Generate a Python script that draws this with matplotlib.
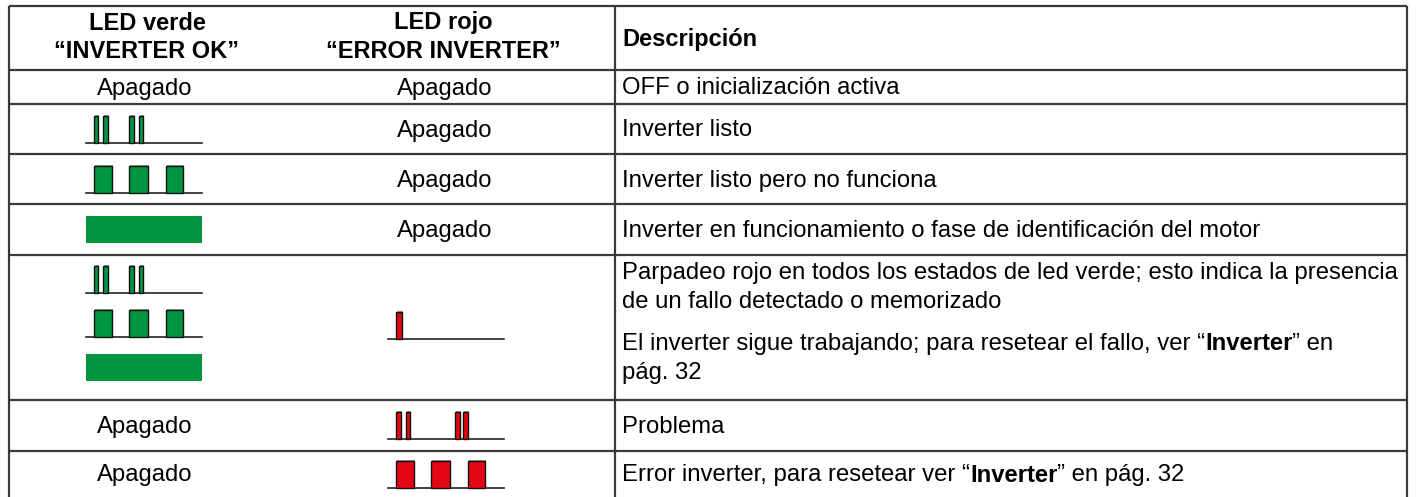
import matplotlib
matplotlib.use("Agg")
import matplotlib.pyplot as plt
from matplotlib.patches import Rectangle

plt.rcParams['font.family'] = ['Liberation Sans', 'DejaVu Sans']

# table content
headers = [["LED verde", "\u201cINVERTER OK\u201d"],
           ["LED rojo", "\u201cERROR INVERTER\u201d"],
           ["Descripci\u00f3n"]]

green_state = ["off", "double", "triple", "solid", "all", "off", "off"]
red_state = ["off", "off", "off", "off", "single", "double", "triple"]

# description: list of paragraphs, each paragraph a list of lines, each line a list of (text, bold)
descriptions = [
    [[[("OFF o inicializaci\u00f3n activa", False)]]],
    [[[("Inverter listo", False)]]],
    [[[("Inverter listo pero no funciona", False)]]],
    [[[("Inverter en funcionamiento o fase de identificaci\u00f3n del motor", False)]]],
    [[[("Parpadeo rojo en todos los estados de led verde; esto indica la presencia", False)],
      [("de un fallo detectado o memorizado", False)]],
     [[("El inverter sigue trabajando; para resetear el fallo, ver \u201c", False),
       ("Inverter", True), ("\u201d en", False)],
      [("p\u00e1g. 32", False)]]],
    [[[("Problema", False)]]],
    [[[("Error inverter, para resetear ver \u201c", False), ("Inverter", True),
       ("\u201d en p\u00e1g. 32", False)]]],
]
off_label = "Apagado"

# blink patterns: (start, width) inside a 116 px wide glyph
pulses = {
    "double": [(8.3, 4.0), (17.3, 4.4), (43.3, 4.4), (53.3, 3.7)],
    "triple": [(8.3, 17.4), (43.3, 19.0), (80.0, 17.3)],
    "single": [(8.0, 5.7)],
    "red_double": [(8.0, 5.0), (18.0, 4.0), (67.0, 4.7), (75.0, 5.0)],
}

# layout (pixels)
W, H = 1416, 497
row_lines = [6, 70, 104, 154, 204, 255, 400, 451]
last_bottom = 497
x_left, x_mid, x_right = 9, 615, 1407
col1_c, col2_c = 145, 445
green_x0, red_x0 = 86, 388
glyph_w, glyph_h = 116, 27
GREEN = "#00963f"
RED = "#e30613"
LINE = "#3a3a3a"
FS = 17.2
FS_H = 17.0
dy = 1.5  # text sits a bit below the row centre

fig = plt.figure(figsize=(W / 100, H / 100), dpi=100)
ax = fig.add_axes([0, 0, 1, 1])
ax.set_xlim(0, W)
ax.set_ylim(H, 0)
ax.axis("off")

# grid
for y in row_lines:
    ax.plot([x_left, x_right], [y, y], color=LINE, lw=1.6, solid_capstyle="butt")
for x in (x_left, x_mid, x_right):
    ax.plot([x, x], [row_lines[0], H], color=LINE, lw=1.6, solid_capstyle="butt")


def draw_pulses(x0, base, pattern, color):
    ax.plot([x0, x0 + glyph_w], [base, base], color="#222222", lw=1.2, zorder=2)
    for s, w in pattern:
        ax.add_patch(Rectangle((x0 + s + 1, base - glyph_h - 0.8), w, glyph_h,
                               facecolor="#9a9a9a", edgecolor="none", zorder=2))
        ax.add_patch(Rectangle((x0 + s, base - glyph_h), w, glyph_h,
                               facecolor=color, edgecolor="#111111", lw=1.0, zorder=3))


def draw_solid(x0, top):
    ax.add_patch(Rectangle((x0, top), glyph_w, glyph_h, facecolor=GREEN,
                           edgecolor="none", zorder=3))


def glyph_base(yc):
    return yc + glyph_h / 2


# header
hc = (row_lines[0] + row_lines[1]) / 2
for cx, lines in ((col1_c + 2, headers[0]), (col2_c - 2, headers[1])):
    ax.text(cx, hc - 15, lines[0], ha="center", va="center", fontsize=FS_H, fontweight="bold")
    ax.text(cx, hc + 14, lines[1], ha="center", va="center", fontsize=FS_H, fontweight="bold")
ax.text(622, hc + 1.5, headers[2][0], ha="left", va="center", fontsize=FS_H, fontweight="bold")

fig.canvas.draw()
renderer = fig.canvas.get_renderer()


def draw_line(x, y, parts):
    for txt, bold in parts:
        t = ax.text(x, y, txt, ha="left", va="center", fontsize=FS,
                    fontweight="bold" if bold else "normal")
        bb = t.get_window_extent(renderer=renderer)
        x += bb.width


bottoms = row_lines[2:] + [last_bottom]
for i in range(7):
    top, bot = row_lines[i + 1], bottoms[i]
    yc = (top + bot) / 2

    g = green_state[i]
    if g == "off":
        ax.text(col1_c, yc + dy, off_label, ha="center", va="center", fontsize=FS)
    elif g == "double":
        draw_pulses(green_x0, glyph_base(yc), pulses["double"], GREEN)
    elif g == "triple":
        draw_pulses(green_x0, glyph_base(yc), pulses["triple"], GREEN)
    elif g == "solid":
        draw_solid(green_x0, yc - glyph_h / 2)
    elif g == "all":
        draw_pulses(green_x0, 292.7, pulses["double"], GREEN)
        draw_pulses(green_x0, 337.0, pulses["triple"], GREEN)
        draw_solid(green_x0, 354.0)

    r = red_state[i]
    if r == "off":
        ax.text(col2_c, yc + dy, off_label, ha="center", va="center", fontsize=FS)
    elif r == "single":
        draw_pulses(red_x0, 339.0, pulses["single"], RED)
    elif r == "double":
        draw_pulses(red_x0, glyph_base(yc), pulses["red_double"], RED)
    elif r == "triple":
        draw_pulses(red_x0, glyph_base(yc), pulses["triple"], RED)

    paras = descriptions[i]
    if len(paras) == 1 and len(paras[0]) == 1:
        draw_line(622, yc + dy, paras[0][0])
    else:
        y = 272 + dy
        for p in paras:
            for ln in p:
                draw_line(622, y, ln)
                y += 28.5
            y += 13.5

fig.savefig("out.png", dpi=100)
